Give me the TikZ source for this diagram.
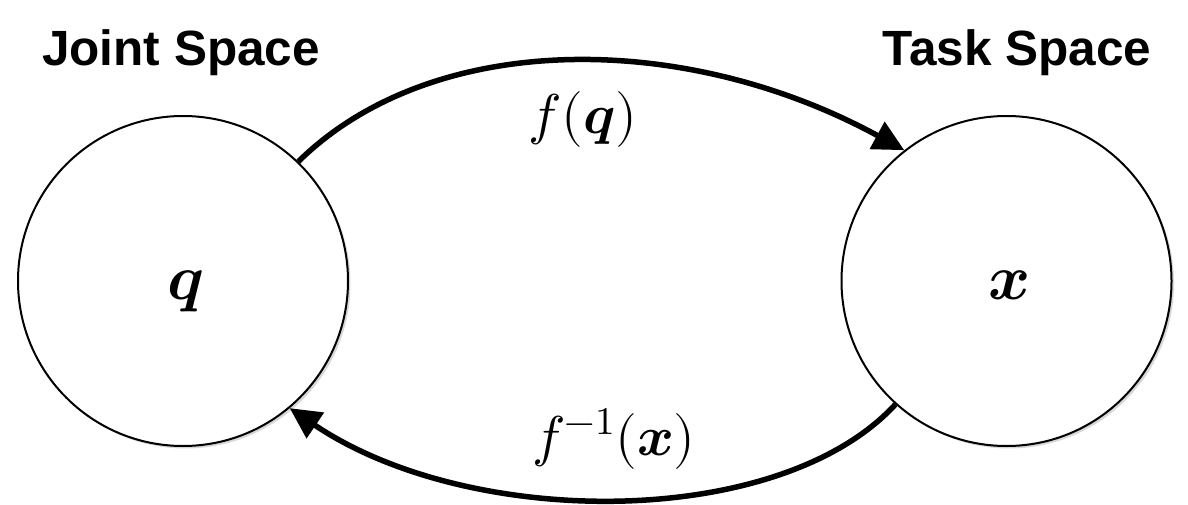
\documentclass[tikz,border=0pt]{standalone}
\usepackage{fontspec}
\usepackage{unicode-math}
\setmathfont{Latin Modern Math}
\newfontfamily\headfont{Liberation Sans}
\usetikzlibrary{arrows.meta,shadows}
\tikzset{
  spacecircle/.style={circle, draw=black, line width=2pt, fill=white, minimum size=330pt, inner sep=0pt,
    drop shadow={opacity=0.3, shadow xshift=2.5pt, shadow yshift=-2.5pt}},
  title/.style={anchor=base, font=\headfont\bfseries\fontsize{49.5}{56}\selectfont, inner sep=0pt},
  maplabel/.style={anchor=base, font=\fontsize{56}{60}\selectfont, inner sep=0pt},
  varlabel/.style={anchor=base, font=\fontsize{64}{70}\selectfont, inner sep=0pt},
  maparrow/.style={line width=5.5pt, -{Triangle[length=31pt,width=30pt]}}
}
\begin{document}
\begin{tikzpicture}[x=1pt,y=-1pt]
\useasboundingbox[fill=white] (0,0) rectangle (1188,505);
\node[spacecircle] (L) at (183,281) {};
\node[spacecircle] (R) at (1006.5,281) {};
\node[varlabel] (qlab) at (186,299) {$\symbfit{q}$};
\node[varlabel] (xlab) at (1010,299) {$\symbfit{x}$};
\node[title] (jt) at (181,66) {Joint Space};
\node[title] (tt) at (1017,66) {Task Space};
\draw[maparrow] (L.46) .. controls (432,30) and (684,30) .. (R.128);
\draw[maparrow] (R.228) .. controls (780,530) and (470,530) .. (L.310);
\node[maplabel] (fq) at (583,134) {$f(\symbfit{q})$};
\node[maplabel] (fx) at (614,455) {$f^{-1}(\symbfit{x})$};
\end{tikzpicture}
\end{document}
